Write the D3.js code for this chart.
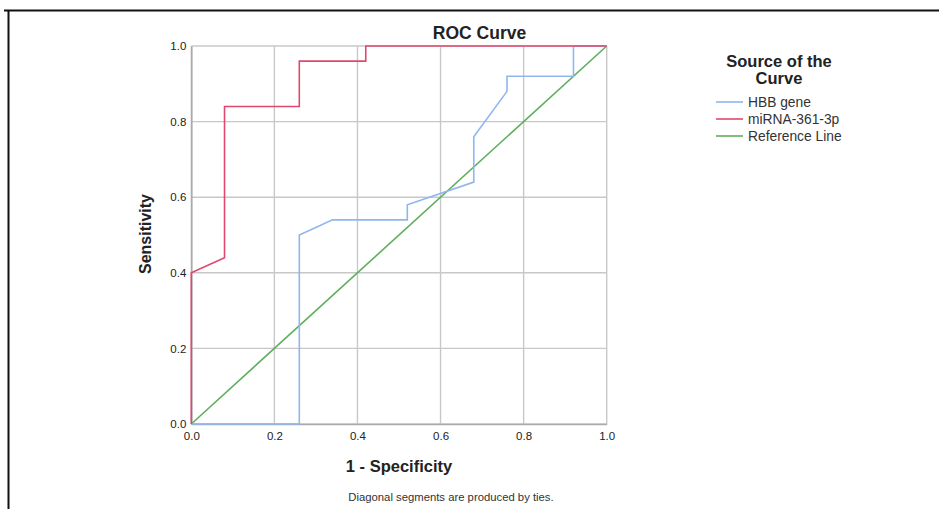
<!DOCTYPE html>
<html><head><meta charset="utf-8">
<script src="https://cdn.jsdelivr.net/npm/d3@7"></script>
<style>body{margin:0;background:#fff;}svg{display:block;font-family:"Liberation Sans",Arial,sans-serif;}</style>
</head><body><svg id="c" width="939" height="509"></svg>
<script>
const tickLabels = ["0.0","0.2","0.4","0.6","0.8","1.0"];
const tickValues = [0,0.2,0.4,0.6,0.8,1.0];
const seriesNames = ["HBB gene","miRNA-361-3p","Reference Line"];
const seriesColors = ["#8fb6ee","#e0486e","#5fae5f"];
const hbbFpr  = [0,0.26,0.26,0.34,0.52,0.52,0.68,0.68,0.76,0.76,0.92,0.92,1];
const hbbTpr  = [0,0,0.5,0.54,0.54,0.58,0.64,0.76,0.88,0.92,0.92,1,1];
const mirFpr  = [0,0,0.08,0.08,0.26,0.26,0.42,0.42,1];
const mirTpr  = [0,0.4,0.44,0.84,0.84,0.96,0.96,1,1];
const refFpr  = [0,1];
const refTpr  = [0,1];

const svg = d3.select("#c");
// outer frame
svg.append("line").attr("x1",4).attr("x2",939).attr("y1",10.5).attr("y2",10.5).attr("stroke","#111").attr("stroke-width",2);
svg.append("line").attr("x1",8.5).attr("x2",8.5).attr("y1",10).attr("y2",509).attr("stroke","#111").attr("stroke-width",2);

const x = d3.scaleLinear().domain([0,1]).range([191.3,606.7]);
const y = d3.scaleLinear().domain([0,1]).range([424,46]);
const g = svg.append("g");

// grid
g.selectAll("line.vg").data(tickValues).join("line").attr("class","vg")
 .attr("x1",d=>x(d)).attr("x2",d=>x(d)).attr("y1",y(0)).attr("y2",y(1))
 .attr("stroke","#c8c8c8").attr("stroke-width",1.4);
g.selectAll("line.hg").data(tickValues).join("line").attr("class","hg")
 .attr("x1",x(0)).attr("x2",x(1)).attr("y1",d=>y(d)).attr("y2",d=>y(d))
 .attr("stroke","#c8c8c8").attr("stroke-width",1.4);

// axes
const xAxis = d3.axisBottom(x).tickValues(tickValues).tickFormat((d,i)=>tickLabels[i]).tickSize(0).tickPadding(8);
const yAxis = d3.axisLeft(y).tickValues(tickValues).tickFormat((d,i)=>tickLabels[i]).tickSize(0).tickPadding(5);
const gx = svg.append("g").attr("transform",`translate(0,${y(0)})`).call(xAxis);
const gy = svg.append("g").attr("transform",`translate(${x(0)},0)`).call(yAxis);
[gx,gy].forEach(a=>{
  a.select(".domain").attr("stroke","#aaa").attr("stroke-width",1.6);
  a.selectAll("text").attr("font-size","11.5px").attr("fill","#222").attr("font-family","'Liberation Sans',Arial,sans-serif");
});

const line = d3.line().x(d=>x(d[0])).y(d=>y(d[1]));
const series = [
  hbbFpr.map((v,i)=>[v,hbbTpr[i]]),
  mirFpr.map((v,i)=>[v,mirTpr[i]]),
  refFpr.map((v,i)=>[v,refTpr[i]])
];
const order = [2,0,1];
order.forEach(i=>{
  svg.append("path").datum(series[i]).attr("d",line).attr("fill","none")
   .attr("stroke",seriesColors[i]).attr("stroke-width",1.6).attr("stroke-linejoin","miter");
});

// titles
svg.append("text").attr("x",479.5).attr("y",39).attr("text-anchor","middle").attr("font-weight","bold").attr("font-size","17.5px").attr("fill","#222").text("ROC Curve");
svg.append("text").attr("transform","translate(151,234) rotate(-90)").attr("text-anchor","middle").attr("font-weight","bold").attr("font-size","16px").attr("fill","#222").text("Sensitivity");
svg.append("text").attr("x",399).attr("y",472).attr("text-anchor","middle").attr("font-weight","bold").attr("font-size","16.5px").attr("fill","#222").text("1 - Specificity");
svg.append("text").attr("x",451).attr("y",501).attr("text-anchor","middle").attr("font-size","11.3px").attr("fill","#333").text("Diagonal segments are produced by ties.");

// legend
svg.append("text").attr("x",779).attr("y",67).attr("text-anchor","middle").attr("font-weight","bold").attr("font-size","16.5px").attr("fill","#222").text("Source of the");
svg.append("text").attr("x",779).attr("y",84).attr("text-anchor","middle").attr("font-weight","bold").attr("font-size","16.5px").attr("fill","#222").text("Curve");
const lg = svg.append("g").selectAll("g").data(seriesNames).join("g").attr("transform",(d,i)=>`translate(716,${102+i*17})`);
lg.append("line").attr("x1",0).attr("x2",27).attr("y1",0).attr("y2",0).attr("stroke",(d,i)=>seriesColors[i]).attr("stroke-width",1.6);
lg.append("text").attr("x",32).attr("y",4.8).attr("font-size","13.8px").attr("fill","#333").text(d=>d);
</script></body></html>
